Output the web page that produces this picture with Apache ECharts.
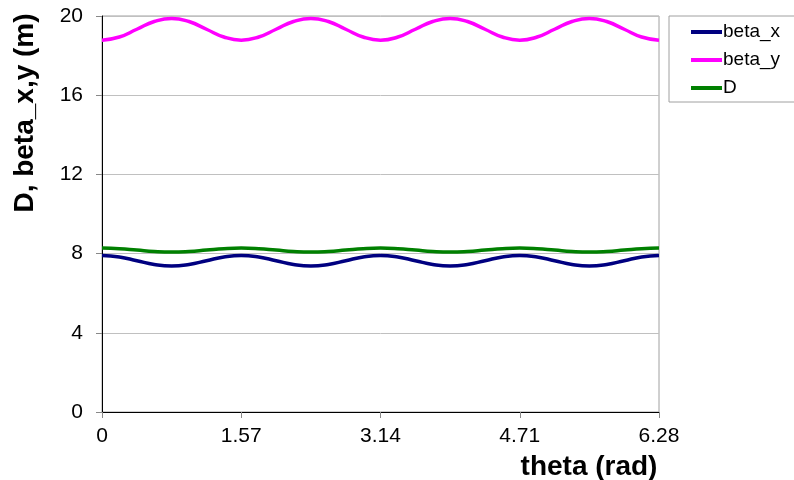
<!DOCTYPE html>
<html>
<head>
<meta charset="utf-8">
<script src="https://cdn.jsdelivr.net/npm/echarts@6/dist/echarts.min.js"></script>
<style>
  html, body { margin: 0; padding: 0; background: #fff; }
  #chart { width: 794px; height: 480px; }
</style>
</head>
<body>
<div id="chart"></div>
<script>
// theta samples (rad), 0 .. 6.28
var thetaList = [0, 0.196, 0.393, 0.589, 0.785, 0.981, 1.178, 1.374, 1.57,
  1.767, 1.963, 2.159, 2.355, 2.552, 2.748, 2.944, 3.14,
  3.336, 3.533, 3.729, 3.925, 4.121, 4.318, 4.514, 4.71,
  4.906, 5.103, 5.299, 5.495, 5.691, 5.888, 6.084, 6.28];

var betaXList = [7.91, 7.83, 7.64, 7.45, 7.37, 7.45, 7.64, 7.83, 7.91,
  7.83, 7.64, 7.45, 7.37, 7.45, 7.64, 7.83, 7.91,
  7.83, 7.64, 7.45, 7.37, 7.45, 7.64, 7.83, 7.91,
  7.83, 7.64, 7.45, 7.37, 7.45, 7.64, 7.83, 7.91];

var betaYList = [18.78, 18.94, 19.33, 19.72, 19.88, 19.72, 19.33, 18.94, 18.78,
  18.94, 19.33, 19.72, 19.88, 19.72, 19.33, 18.94, 18.78,
  18.94, 19.33, 19.72, 19.88, 19.72, 19.33, 18.94, 18.78,
  18.94, 19.33, 19.72, 19.88, 19.72, 19.33, 18.94, 18.78];

var dList = [8.28, 8.25, 8.18, 8.11, 8.08, 8.11, 8.18, 8.25, 8.28,
  8.25, 8.18, 8.11, 8.08, 8.11, 8.18, 8.25, 8.28,
  8.25, 8.18, 8.11, 8.08, 8.11, 8.18, 8.25, 8.28,
  8.25, 8.18, 8.11, 8.08, 8.11, 8.18, 8.25, 8.28];

var seriesNames = ['beta_x', 'beta_y', 'D'];
var seriesColors = ['#000080', '#ff00ff', '#008000'];
var xTicks = ['0', '1.57', '3.14', '4.71', '6.28'];

var font = '"Liberation Sans", Arial, sans-serif';

function pairs(ys) {
  var out = [];
  for (var i = 0; i < thetaList.length; i++) {
    out.push([thetaList[i], ys[i]]);
  }
  return out;
}

var seriesData = [betaXList, betaYList, dList];
var series = [];
for (var s = 0; s < seriesNames.length; s++) {
  series.push({
    name: seriesNames[s],
    type: 'line',
    smooth: true,
    showSymbol: false,
    data: pairs(seriesData[s]),
    lineStyle: { color: seriesColors[s], width: 3.5 },
    itemStyle: { color: seriesColors[s] }
  });
}

var chart = echarts.init(document.getElementById('chart'));
chart.setOption({
  animation: false,
  textStyle: { fontFamily: font },
  grid: {
    left: 102, right: 135, top: 16, bottom: 68,
    show: true, borderColor: '#a0a0a0', borderWidth: 1
  },
  legend: {
    orient: 'vertical',
    left: 669, top: 16,
    data: seriesNames,
    icon: 'rect',
    itemWidth: 31, itemHeight: 4,
    itemGap: 8,
    padding: [6, 30, 4, 22],
    borderColor: '#a0a0a0', borderWidth: 1,
    textStyle: { fontSize: 19, color: '#000', lineHeight: 20, padding: [0, 0, 0, -4], fontFamily: font }
  },
  xAxis: {
    type: 'value',
    min: 0, max: 6.28, interval: 1.57,
    axisLine: { lineStyle: { color: '#000', width: 1 } },
    axisTick: { show: true, inside: false, length: 6, lineStyle: { color: '#888' } },
    splitLine: { show: false },
    axisLabel: {
      fontSize: 21, color: '#000', margin: 14, fontFamily: font,
      formatter: function (v) {
        var idx = Math.round(v / 1.57);
        return xTicks[idx];
      }
    }
  },
  yAxis: {
    type: 'value',
    min: 0, max: 20, interval: 4,
    axisLine: { show: true, lineStyle: { color: '#000', width: 1 } },
    axisTick: { show: true, inside: false, length: 6, lineStyle: { color: '#888' } },
    splitLine: { show: true, lineStyle: { color: '#c0c0c0', width: 1 } },
    axisLabel: { fontSize: 21, color: '#000', margin: 19, fontFamily: font }
  },
  graphic: [{
    type: 'text',
    x: 589, y: 467,
    style: {
      text: 'theta (rad)', fontSize: 28, fontWeight: 'bold', fill: '#000',
      fontFamily: font, align: 'center', verticalAlign: 'middle'
    }
  }, {
    type: 'text',
    x: 25, y: 113,
    rotation: Math.PI / 2,
    style: {
      text: 'D, beta_x,y (m)', fontSize: 28, fontWeight: 'bold', fill: '#000',
      fontFamily: font, align: 'center', verticalAlign: 'middle'
    }
  }],
  series: series
});
</script>
</body>
</html>
